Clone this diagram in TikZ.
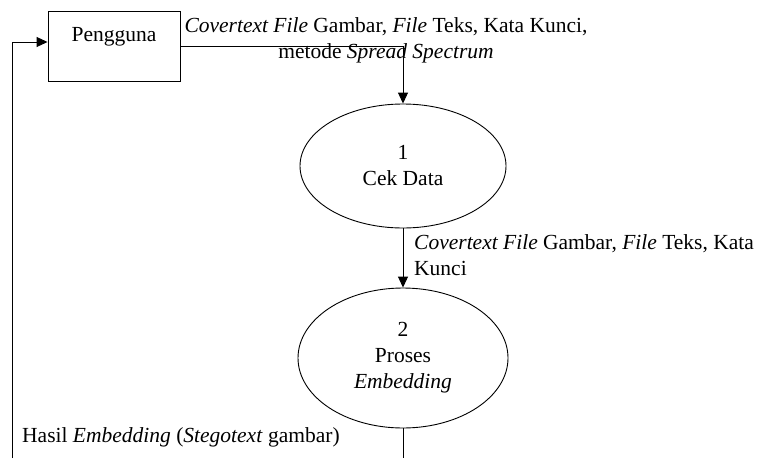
\documentclass[tikz,border=0pt]{standalone}
\usepackage{fontspec}
\setmainfont{Liberation Serif}
\usetikzlibrary{arrows.meta,shapes.geometric}
\tikzset{
  userbox/.style={draw,line width=0.9pt,minimum width=132pt,minimum height=70pt,inner sep=0pt},
  proc/.style={draw,ellipse,line width=0.9pt,align=center,inner sep=0pt},
  flow/.style={line width=0.9pt,-{Triangle[length=11pt,width=10pt]}},
  flowline/.style={line width=0.9pt},
  lbl/.style={inner sep=0pt,font=\fontsize{21.5}{26}\selectfont}
}
\begin{document}
\begin{tikzpicture}[x=1pt,y=-1pt,font=\fontsize{21.5}{26}\selectfont]
            \useasboundingbox (0,0) rectangle (765,458);
            %	entitas dan proses
            \node[userbox,label={[anchor=north,yshift=-17pt,lbl]north:Pengguna}] (user) at (114,46) {};
            \node[proc,minimum width=206pt,minimum height=124pt] (cek) at (403,166) {1\\Cek Data};
            \node[proc,minimum width=210pt,minimum height=140pt] (emb) at (403,358) {2\\Proses\\\textit{Embedding}};
            \coordinate (bawah) at (403,458);
            \coordinate (kiri) at (12,458);
            % aliran data
            \draw[flow] (user) -| (cek);
            \draw[flow] (cek) -- (emb);
            \draw[flowline] (emb) -- (bawah);
            \draw[flow] (kiri) |- ([yshift=4pt]user.west);
            % label aliran
            \node[lbl,align=center] (lb1) at (386,40) {\textit{Covertext File} Gambar, \textit{File} Teks, Kata Kunci,\\metode \textit{Spread Spectrum}};
            \node[lbl,align=left,anchor=north west] (lb2) at (414,234) {\textit{Covertext File} Gambar, \textit{File} Teks, Kata\\Kunci};
            \node[lbl,anchor=west] (lb3) at (22,437) {Hasil \textit{Embedding} (\textit{Stegotext} gambar)};
        \end{tikzpicture}
\end{document}
